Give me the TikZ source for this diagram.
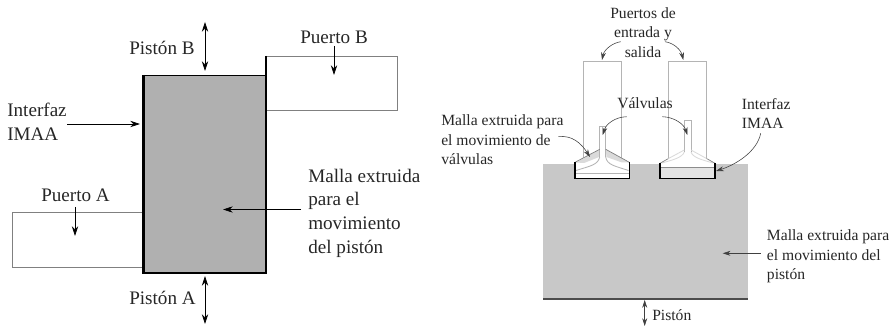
\documentclass[tikz,border=0pt]{standalone}
\usepackage{fontspec}
\setmainfont{Liberation Serif}
\usetikzlibrary{arrows.meta}
\definecolor{mallaosc}{HTML}{B0B0B0}
\definecolor{mallacla}{HTML}{C8C8C8}
\definecolor{bandagris}{HTML}{DADADA}
\definecolor{caragris}{HTML}{E4E4E4}
\definecolor{lineagris}{HTML}{B4B4B4}
\tikzset{
  flecha/.style={draw=black, line width=0.45pt, -{Stealth[length=7pt,width=4.5pt]}},
  dobleflecha/.style={draw=black, line width=0.45pt, {Stealth[length=7pt,width=4.5pt]}-{Stealth[length=7pt,width=4.5pt]}},
  flechafina/.style={draw=black!75, line width=0.4pt, -{Stealth[length=5.5pt,width=3.5pt]}},
  puerto/.style={draw=black!50, line width=0.7pt},
  tubo/.style={draw=lineagris, line width=0.6pt},
  valvula/.style={draw=lineagris, line width=0.6pt},
  grande/.style={black!85, anchor=west, align=left, inner sep=0pt, font=\fontsize{13.6}{16.8}\selectfont},
  chica/.style={black!85, anchor=west, align=left, inner sep=0pt, font=\fontsize{11.1}{13.8}\selectfont},
}
\begin{document}
\begin{tikzpicture}[x=0.025cm, y=-0.025cm]
    \useasboundingbox (0,0) rectangle (892,327);
    % piston opuesto
    \fill[mallaosc] (143.5,75.5) rectangle (266,273);
    \draw[puerto] (266,56) -- (397,56) -- (397,110) -- (266,110);
    \draw[puerto] (143,212.5) -- (12,212.5) -- (12,267) -- (143,267);
    \draw[draw=black, line width=1pt] (143.5,75.5) -- (266,75.5);
    \draw[draw=black, line width=1pt] (143.5,273) -- (266,273);
    \draw[draw=black, line width=2pt] (143.5,75) -- (143.5,273.5);
    \draw[draw=black, line width=1.5pt] (266,56) -- (266,273.5);

    \node[grande] (pistonB) at (129,48) {Pistón B};
    \node[grande] (puertoB) at (300,37) {Puerto B};
    \node[grande] (interfazA) at (7,122) {Interfaz\\IMAA};
    \node[grande] (puertoA) at (41,195) {Puerto A};
    \node[grande] (mallaA) at (308,213) {Malla extruida\\para el\\movimiento\\del pistón};
    \node[grande] (pistonA) at (129,298) {Pistón A};

    \coordinate (pistonBsup) at (205,22);
    \coordinate (pistonBinf) at (205,71);
    \coordinate (pistonAsup) at (205,276);
    \coordinate (pistonAinf) at (205,324);
    \coordinate (interfazAfin) at (140,124);
    \coordinate (puertoBini) at (334,46);
    \coordinate (puertoBfin) at (334,75);
    \coordinate (puertoAini) at (75,207);
    \coordinate (puertoAfin) at (75,236);
    \coordinate (mallaAini) at (301,209.5);
    \coordinate (mallaAfin) at (223,209.5);
    \draw[dobleflecha] (pistonBsup) -- (pistonBinf);
    \draw[dobleflecha] (pistonAsup) -- (pistonAinf);
    \draw[flecha] (interfazA.east |- interfazAfin) -- (interfazAfin);
    \draw[flecha] (puertoBini) -- (puertoBfin);
    \draw[flecha] (puertoAini) -- (puertoAfin);
    \draw[flecha] (mallaAini) -- (mallaAfin);

    % motor con valvulas
    \fill[mallacla] (543,164) rectangle (747.5,299);
    \draw[draw=black!70, line width=1pt] (543,299) -- (747.5,299);
    \draw[tubo] (583,158) -- (583,61) -- (621,61) -- (621,158);
    \draw[tubo] (668.5,158) -- (668.5,61) -- (706.5,61) -- (706.5,158);

    % valvula izquierda
    \fill[white] (575,178.7) -- (575,162.3) -- (599.7,149.3) -- (599.7,126) -- (605.7,126) -- (605.7,149.3) -- (629.3,162.3) -- (629.3,178.7) -- cycle;
    \fill[bandagris] (599.7,149.5) -- (576,162.5) -- (584,163) -- (599,157) -- cycle;
    \fill[bandagris] (605.7,149.3) -- (629,162.3) -- (622,162.5) -- (606.5,157) -- cycle;
    \draw[valvula] (599.7,157) -- (599.7,126) -- (605.7,126) -- (605.7,157);
    \draw[valvula] (599.7,157) .. controls (598,165) and (590,166) .. (576,170.5);
    \draw[valvula] (605.7,157) .. controls (607,165) and (615,166) .. (628.5,170.5);
    \draw[valvula, line width=0.5pt] (575,173.5) -- (629.3,173.5);
    \draw[draw=black!50, line width=0.5pt] (575,162.3) -- (599.7,149.3);
    \draw[draw=black!50, line width=0.5pt] (605.7,149.3) -- (629.3,162.3);
    \draw[draw=black, line width=0.8pt] (575,162.3) -- (575,178.7) -- (629.3,178.7) -- (629.3,162.3);

    % valvula derecha
    \fill[white] (660,178.3) -- (660,163.3) -- (684.3,150) -- (684.3,120) -- (691,120) -- (691,150) -- (715,163.3) -- (715,178.3) -- cycle;
    \fill[caragris] (660,167.3) rectangle (715,178.3);
    \draw[draw=black!45, line width=0.5pt] (660,167.3) -- (715,167.3);
    \draw[valvula] (684.3,152) -- (684.3,120) -- (691,120) -- (691,152);
    \draw[draw=bandagris, line width=0.6pt] (684.3,152) .. controls (682,158) and (672,160) .. (662,163);
    \draw[draw=bandagris, line width=0.6pt] (691,152) .. controls (693,158) and (703,160) .. (713,163);
    \draw[draw=black!50, line width=0.5pt] (660,163.3) -- (668.5,158.5);
    \draw[draw=bandagris, line width=0.6pt] (668.5,158.5) -- (684.3,150);
    \draw[draw=bandagris, line width=0.6pt] (691,150) -- (706.5,158.5);
    \draw[draw=black!50, line width=0.5pt] (706.5,158.5) -- (715,163.3);
    \draw[draw=black, line width=0.8pt] (660,163.3) -- (660,178.3) -- (715,178.3) -- (715,163.3);

    \node[chica, anchor=center, align=center] (puertos) at (643,32.5) {Puertos de\\entrada y\\salida};
    \node[chica] (valvulas) at (617,103) {Válvulas};
    \node[chica] (mallaV) at (441,140) {Malla extruida para\\el movimiento de\\válvulas};
    \node[chica] (interfazB) at (741.7,113.5) {Interfaz\\IMAA};
    \node[chica] (mallaB) at (766.7,256.5) {Malla extruida para\\el movimiento del\\pistón};
    \node[chica] (piston) at (652,315) {Pistón};

    \coordinate (puertoIini) at (620.7,41.7);
    \coordinate (puertoIfin) at (602,60);
    \coordinate (puertoDini) at (665,41.7);
    \coordinate (puertoDfin) at (683.3,60);
    \coordinate (valvIini) at (626.7,116.7);
    \coordinate (valvIfin) at (602.7,135);
    \coordinate (valvDini) at (662.3,116.7);
    \coordinate (valvDfin) at (687.3,135);
    \coordinate (mallaVini) at (558.3,136.7);
    \coordinate (mallaVfin) at (590,157);
    \coordinate (interfazBini) at (760.7,133.3);
    \coordinate (interfazBfin) at (716,171);
    \coordinate (mallaBini) at (760.7,253.3);
    \coordinate (mallaBfin) at (722.7,253.3);
    \coordinate (pistonsup) at (644.7,300);
    \coordinate (pistoninf) at (644.7,326);
    \draw[flechafina] (puertoIini) .. controls (612,43) and (604,50) .. (puertoIfin);
    \draw[flechafina] (puertoDini) .. controls (674,43) and (681,50) .. (puertoDfin);
    \draw[flechafina] (valvIini) .. controls (615,117) and (606,124) .. (valvIfin);
    \draw[flechafina] (valvDini) .. controls (674,117) and (684,124) .. (valvDfin);
    \draw[flechafina] (mallaVini) .. controls (572,135) and (581,143) .. (mallaVfin);
    \draw[flechafina] (interfazBini) .. controls (757,152) and (735,165) .. (interfazBfin);
    \draw[flechafina] (mallaBini) -- (mallaBfin);
    \draw[flechafina, {Stealth[length=5.5pt,width=3.5pt]}-{Stealth[length=5.5pt,width=3.5pt]}] (pistonsup) -- (pistoninf);
  \end{tikzpicture}
\end{document}
